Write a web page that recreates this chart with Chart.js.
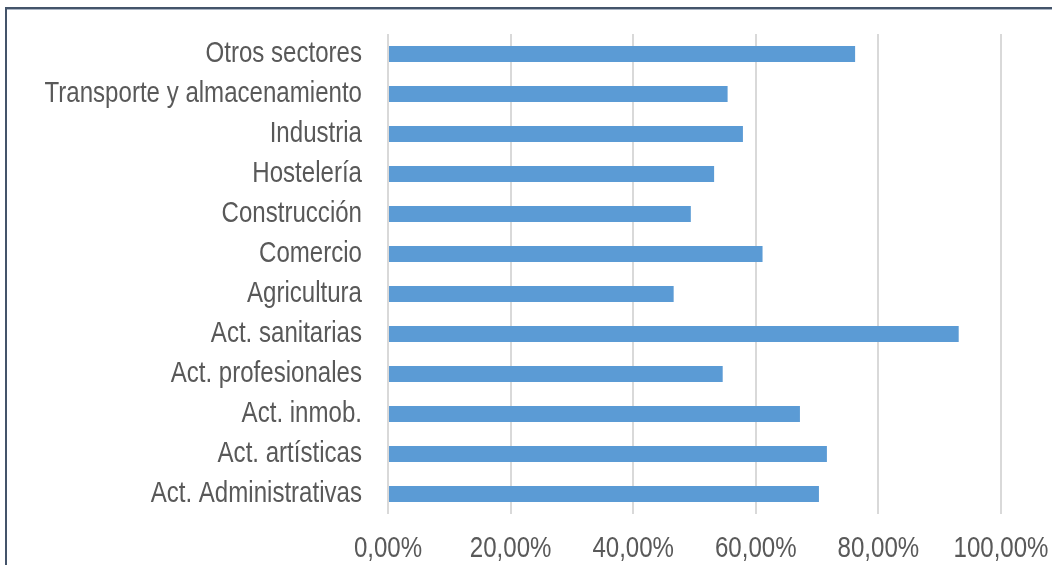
<!DOCTYPE html>
<html>
<head>
<meta charset="utf-8">
<script src="https://cdn.jsdelivr.net/npm/chart.js@4/dist/chart.umd.min.js"></script>
<style>
  html, body { margin: 0; padding: 0; background: #fff; }
  #wrap { position: relative; width: 1052px; height: 565px; overflow: hidden; }
  #frame {
    position: absolute; left: 5px; top: 7px; width: 1100px; height: 600px;
    border-top: 2px solid #44546a; border-left: 2px solid #44546a;
    box-shadow: inset 0 1px 0 #aab4c3;
  }
  #sectores { position: absolute; left: 0; top: 0; }
</style>
</head>
<body>
<div id="wrap">
  <div id="frame"></div>
  <canvas id="sectores" width="1052" height="565"></canvas>
</div>
<script>
var sectores = [
  "Otros sectores",
  "Transporte y almacenamiento",
  "Industria",
  "Hostelería",
  "Construcción",
  "Comercio",
  "Agricultura",
  "Act. sanitarias",
  "Act. profesionales",
  "Act. inmob.",
  "Act. artísticas",
  "Act. Administrativas"
];

// porcentaje por sector
var porcentajes = [76.2, 55.4, 57.9, 53.2, 49.4, 61.1, 46.6, 93.1, 54.6, 67.2, 71.6, 70.3];

var ejeMin = 0;
var ejeMax = 100;
var ejePaso = 20;

var fuente = { family: "'Liberation Sans', Arial, sans-serif", size: 29 };
var gris = "#595959";
var estrecho = 0.83; // letra estrecha tipo Arial Narrow

// dibuja las etiquetas del eje comprimidas en horizontal
function etiquetasEstrechas(scale) {
  scale.drawLabels = function (area) {
    var c = this.ctx;
    var rot = c.rotate;
    c.rotate = function (a) { rot.call(c, a); c.scale(estrecho, 1); };
    Chart.Scale.prototype.drawLabels.call(this, area);
    delete c.rotate;
  };
}

var ctx = document.getElementById("sectores");

var chart = new Chart(ctx, {
  type: "bar",
  data: {
    labels: sectores,
    datasets: [{
      data: porcentajes,
      backgroundColor: "#5b9bd5",
      borderWidth: 0,
      categoryPercentage: 0.8,
      barPercentage: 0.5
    }]
  },
  options: {
    indexAxis: "y",
    responsive: false,
    animation: false,
    devicePixelRatio: 1,
    layout: { padding: { top: 34, right: 51, left: 0, bottom: 0 } },
    plugins: {
      legend: { display: false },
      tooltip: { enabled: false }
    },
    scales: {
      x: {
        min: ejeMin,
        max: ejeMax,
        ticks: {
          stepSize: ejePaso,
          color: gris,
          font: fuente,
          padding: 18,
          maxRotation: 0,
          autoSkip: false,
          callback: function (v) { return v.toFixed(2).replace(".", ",") + "%"; }
        },
        grid: { color: "#d9d9d9", lineWidth: 2, drawTicks: false },
        border: { display: false },
        afterFit: function (s) {
          s.height = 51;
          s.paddingLeft = 0;
          s.paddingRight = 0;
          etiquetasEstrechas(s);
        }
      },
      y: {
        ticks: { color: gris, font: fuente, padding: 26, autoSkip: false },
        grid: { display: false, drawTicks: false },
        border: { display: false },
        afterFit: function (s) {
          s.width = 388;
          s.paddingTop = 0;
          s.paddingBottom = 0;
          etiquetasEstrechas(s);
        }
      }
    }
  }
});
</script>
</body>
</html>
